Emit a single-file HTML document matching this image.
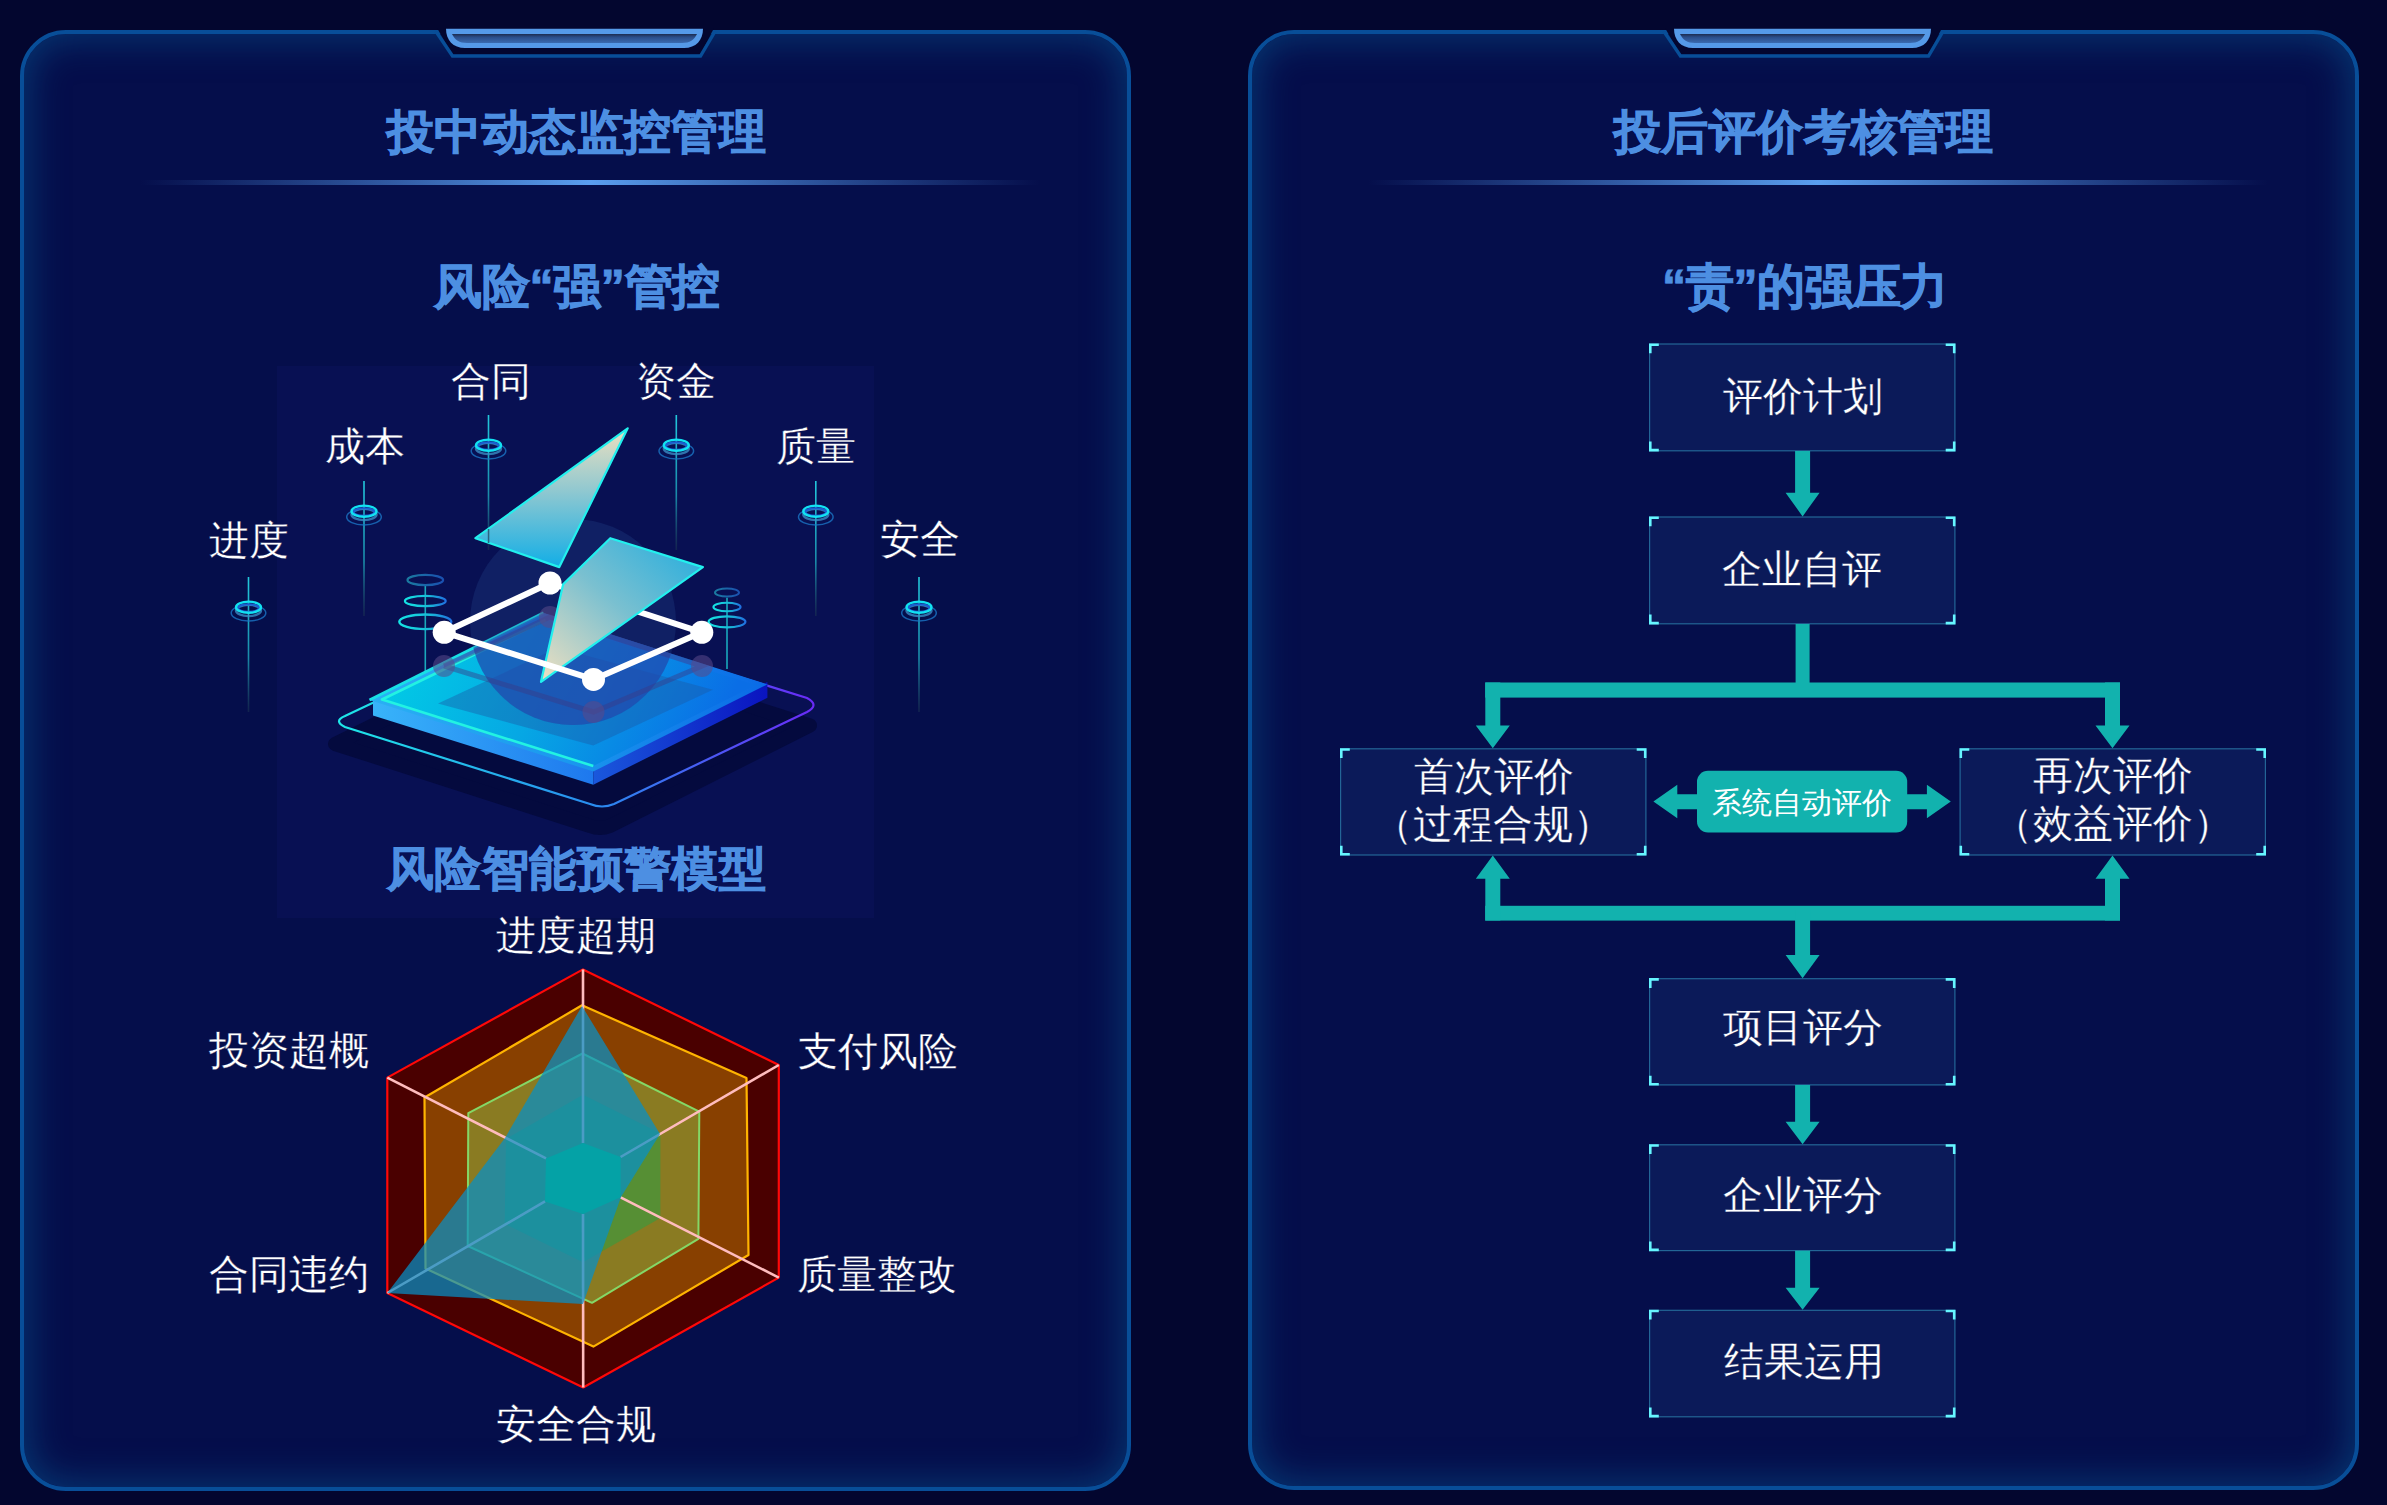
<!DOCTYPE html>
<html><head><meta charset="utf-8">
<style>
html,body{margin:0;padding:0;}
body{width:2387px;height:1505px;overflow:hidden;background:#03062f;position:relative;font-family:"Liberation Sans",sans-serif;}
.panel{position:absolute;top:30px;width:1111px;height:1461px;box-sizing:border-box;border:4px solid #084e98;border-radius:46px;background:#050e4b;box-shadow:inset 0 0 36px 5px rgba(6,64,122,0.8);}
#p1{left:20px;}
#p2{left:1248px;top:29.5px;height:1460px;}
.t{position:absolute;white-space:nowrap;color:#fff;line-height:1;}
.h1{font-size:47px;letter-spacing:0.4px;font-weight:700;color:#4d8fe2;-webkit-text-stroke:0.9px #4d8fe2;}
.h2{font-size:48px;letter-spacing:-0.3px;font-weight:700;color:#4d8fe2;-webkit-text-stroke:0.9px #4d8fe2;}
.lb{font-size:40px;font-weight:400;color:#fff;-webkit-text-stroke:0.3px #050e4b;}
.bx{-webkit-text-stroke:0.3px #0b1a59;}
svg{position:absolute;left:0;top:0;}
</style></head><body>
<div class="panel" id="p1"></div>
<div class="panel" id="p2"></div>

<svg width="2387" height="1505" viewBox="0 0 2387 1505">
<defs>
  <linearGradient id="hl" x1="0" x2="1" y1="0" y2="0">
    <stop offset="0" stop-color="#4d8fe2" stop-opacity="0"/>
    <stop offset="0.5" stop-color="#5a9ef0" stop-opacity="1"/>
    <stop offset="1" stop-color="#4d8fe2" stop-opacity="0"/>
  </linearGradient>
  <linearGradient id="tabin" x1="0" x2="0" y1="0" y2="1">
    <stop offset="0" stop-color="#1c2c50"/>
    <stop offset="0.35" stop-color="#2a4c88"/>
    <stop offset="1" stop-color="#3a6ab0"/>
  </linearGradient>
  <g id="tab">
    <polygon points="437,28 714,28 700.5,54.5 452.5,54.5" fill="#03062f"/>
    <polyline points="436,31.5 452.5,56 700.5,56 715,31.5" fill="none" stroke="#084e98" stroke-width="3.4"/>
    <path d="M446,28.7 L703,28.7 C703,40 696,48 684,48 L465,48 C453,48 446,40 446,28.7 Z" fill="#5599e8"/>
    <path d="M452,34 L697,34 C694,40 690,43 682,43 L467,43 C459,43 455,40 452,34 Z" fill="url(#tabin)"/>
  </g>
</defs>
<use href="#tab"/>
<use href="#tab" x="1228"/>
<rect x="140" y="180" width="900" height="5" fill="url(#hl)"/>
<rect x="1368" y="180" width="900" height="5" fill="url(#hl)"/>
</svg>

<svg width="2387" height="1505" viewBox="0 0 2387 1505" id="ill">
<defs>
  <linearGradient id="pinl" x1="0" x2="0" y1="0" y2="1">
    <stop offset="0" stop-color="#22c8dc"/>
    <stop offset="0.6" stop-color="#1a8aa8"/>
    <stop offset="1" stop-color="#1a3050" stop-opacity="0.6"/>
  </linearGradient>
  <g id="pin">
    <rect x="-0.8" y="0" width="1.6" height="135" fill="url(#pinl)"/>
    <ellipse cx="0" cy="36" rx="17.3" ry="8" fill="none" stroke="#1a74c4" stroke-width="1.5" opacity="0.8"/>
    <ellipse cx="0" cy="33.5" rx="12.5" ry="5.6" fill="none" stroke="#3a8cc4" stroke-width="2.4" opacity="0.8"/>
    <ellipse cx="0" cy="31" rx="10.5" ry="3.8" fill="none" stroke="#1a5ed0" stroke-width="2"/>
    <ellipse cx="0" cy="30.2" rx="12.5" ry="5.6" fill="none" stroke="#12e2f2" stroke-width="2.4"/>
  </g>
  <linearGradient id="outl" x1="0" x2="1" y1="0" y2="0">
    <stop offset="0" stop-color="#1ee8e8"/>
    <stop offset="0.55" stop-color="#2a8af0"/>
    <stop offset="1" stop-color="#6a2af8"/>
  </linearGradient>
  <linearGradient id="topf" x1="0" x2="1" y1="0" y2="0.2">
    <stop offset="0" stop-color="#00d2e6"/>
    <stop offset="0.5" stop-color="#06a8e4"/>
    <stop offset="1" stop-color="#0a6ee6"/>
  </linearGradient>
  <linearGradient id="outf" x1="0" x2="1" y1="0" y2="0">
    <stop offset="0" stop-color="#2ab0f4"/>
    <stop offset="0.5" stop-color="#1a98ee"/>
    <stop offset="1" stop-color="#0a6ae6"/>
  </linearGradient>
  <linearGradient id="inf" x1="0" x2="1" y1="0" y2="0">
    <stop offset="0" stop-color="#1aa0d4"/>
    <stop offset="1" stop-color="#1a70d4"/>
  </linearGradient>
  <linearGradient id="lface" x1="0" x2="1" y1="0" y2="0">
    <stop offset="0" stop-color="#38b4fa"/>
    <stop offset="1" stop-color="#1e78ee"/>
  </linearGradient>
  <linearGradient id="rface" x1="0" x2="1" y1="0" y2="0">
    <stop offset="0" stop-color="#1a58dc"/>
    <stop offset="1" stop-color="#0a14c0"/>
  </linearGradient>
  <linearGradient id="bolt1" x1="0" x2="0" y1="0" y2="1">
    <stop offset="0" stop-color="#ece0c0"/>
    <stop offset="0.45" stop-color="#90c8d0"/>
    <stop offset="1" stop-color="#12aee6"/>
  </linearGradient>
  <linearGradient id="bolt2" x1="1" x2="0" y1="0" y2="1">
    <stop offset="0" stop-color="#20acdf"/>
    <stop offset="0.5" stop-color="#7ac0d0"/>
    <stop offset="1" stop-color="#f0e0c0"/>
  </linearGradient>
</defs>
<rect x="277" y="366" width="597" height="552" fill="#0c1460" opacity="0.4"/>
<use href="#pin" x="248.5" y="577"/>
<use href="#pin" x="919" y="577"/>
<use href="#pin" x="364" y="481"/>
<use href="#pin" x="815.8" y="481"/>
<use href="#pin" x="488.5" y="415"/>
<use href="#pin" x="676.3" y="415"/>
<!-- shadow -->
<path d="M335,744 L590,826 Q600,830 610,826 L810,725.5 L545,640 Z" fill="#040a3e" stroke="#040a3e" stroke-width="14" stroke-linejoin="round"/>
<!-- outline -->
<path d="M345,716 Q333,721 345,727 L590,804 Q602,809 614,804 L807,712 Q820,705 807,698 L551,618.5 Z" fill="none" stroke="url(#outl)" stroke-width="2.2"/>
<!-- small stacks -->
<defs>
  <linearGradient id="stk" x1="0" x2="1" y1="0" y2="0">
    <stop offset="0" stop-color="#14e4e4"/>
    <stop offset="0.6" stop-color="#18b8d8"/>
    <stop offset="1" stop-color="#2070e0"/>
  </linearGradient>
  <linearGradient id="stk2" x1="0" x2="1" y1="0" y2="0">
    <stop offset="0" stop-color="#1a7aa0"/>
    <stop offset="1" stop-color="#1a50b0"/>
  </linearGradient>
</defs>
<g fill="none">
  <rect x="424.5" y="586" width="1.6" height="87" fill="#1aa8bc"/>
  <ellipse cx="425.3" cy="580" rx="17.8" ry="5.2" stroke="url(#stk2)" stroke-width="2.2"/>
  <ellipse cx="425.3" cy="601" rx="20.4" ry="5.2" stroke="url(#stk)" stroke-width="2.2"/>
  <ellipse cx="425.3" cy="621.8" rx="26" ry="7.3" stroke="url(#stk)" stroke-width="2.4"/>
  <rect x="726.2" y="597.7" width="1.6" height="71.3" fill="#1aa8bc"/>
  <ellipse cx="727" cy="592.5" rx="12" ry="4" stroke="url(#stk2)" stroke-width="2"/>
  <ellipse cx="727" cy="607" rx="13.6" ry="4.2" stroke="url(#stk)" stroke-width="2"/>
  <ellipse cx="727" cy="621.8" rx="18.4" ry="5.5" stroke="url(#stk)" stroke-width="2.2"/>
</g>
<!-- slab -->
<polygon points="373,698 593.3,769 593.3,784.7 373,715.5" fill="url(#lface)"/>
<polygon points="593.3,769 767.4,682 767.4,697.7 593.3,784.7" fill="url(#rface)"/>
<polygon points="369.5,700 543.6,612.9 767.4,684.4 593.3,771.5" fill="url(#outf)"/>
<polygon points="382,699.5 545.5,620 756,685 593.3,766" fill="url(#topf)"/>
<polyline points="593.3,766 382,699.5 545.5,620" fill="none" stroke="#22f2e2" stroke-width="2.6" stroke-linejoin="round"/>
<polyline points="369.5,700 543.6,612.9" fill="none" stroke="#18e0e6" stroke-width="3"/>
<polygon points="438,703.5 557.6,647.7 712.9,689.7 593.3,745.5" fill="#1a5aa8" opacity="0.42"/>
<!-- circle -->
<clipPath id="slabclip"><polygon points="369.5,700 543.6,612.9 767.4,684.4 593.3,771.5"/></clipPath><circle cx="573" cy="622" r="103" fill="rgb(40,80,150)" fill-opacity="0.25"/><circle cx="573" cy="622" r="103" fill="rgb(32,70,176)" fill-opacity="0.62" clip-path="url(#slabclip)"/>
<!-- shadow nodes -->
<g stroke="#3a3a88" stroke-width="5" opacity="0.45" fill="none">
  <polyline points="444,666 593.5,712 702,666 550,617 444,666"/>
</g>
<g fill="#5a4a8a" opacity="0.55">
  <circle cx="444" cy="666" r="11"/><circle cx="593.5" cy="712" r="11"/><circle cx="702" cy="666" r="11"/><circle cx="550" cy="617" r="11"/>
</g>
<!-- frame back segment -->
<line x1="550" y1="583" x2="701.8" y2="632.3" stroke="#fff" stroke-width="6"/>
<!-- bolts -->
<polygon points="627.7,428.3 475.4,538.2 559.3,567.1" fill="url(#bolt1)" stroke="#22f0ee" stroke-width="2.2" stroke-linejoin="round"/>
<polygon points="610.3,538.2 702.9,567.1 541,681.8 563.1,584.4" fill="url(#bolt2)" stroke="#22f0ee" stroke-width="2.2" stroke-linejoin="round"/>
<rect x="487.8" y="529" width="1.5" height="14" fill="#20506a" opacity="0.8"/>
<!-- frame front -->
<polyline points="550,583 444.2,632.3 593.5,679.4 701.8,632.3" fill="none" stroke="#fff" stroke-width="6" stroke-linejoin="round"/>
<g fill="#fff"><circle cx="444.2" cy="632.3" r="11.5"/><circle cx="550" cy="583" r="11.5"/><circle cx="701.8" cy="632.3" r="11.5"/><circle cx="593.5" cy="679.4" r="11.5"/></g>
</svg>

<svg width="2387" height="1505" viewBox="0 0 2387 1505" id="radar">
<polygon points="583,969.4 778.8,1065 778.8,1277.6 583.2,1387.5 387.3,1293 387.3,1077.6" fill="#4a0000" stroke="#ff0808" stroke-width="2.2" stroke-linejoin="round"/>
<polygon points="582,1005.3 746.5,1078 748.5,1255 593.4,1346.6 425.5,1268.5 424.5,1097.5" fill="#884000" stroke="#ffb400" stroke-width="2.2" stroke-linejoin="round"/>
<polygon points="582.5,1053.5 699.3,1111.7 698.4,1238.8 592,1302.8 467.7,1246 468.3,1113.1" fill="#8a7b22" stroke="#84d866" stroke-width="2" stroke-linejoin="round"/>
<polygon points="583,1094.7 660.4,1133.3 660.4,1218 583,1262.3 504.7,1224 506,1139" fill="#568f34"/>
<polygon points="583,1143 620.6,1157 620.6,1197.3 583,1214 545,1201.4 546,1158.4" fill="#00d050"/>
<g stroke="#ffbcbe" stroke-width="2.6"><line x1="583" y1="1143" x2="583" y2="969.4"/><line x1="620.6" y1="1157" x2="778.8" y2="1065"/><line x1="620.6" y1="1197.3" x2="778.8" y2="1277.6"/><line x1="583" y1="1214" x2="583.2" y2="1387.5"/><line x1="545" y1="1201.4" x2="387.3" y2="1293"/><line x1="546" y1="1158.4" x2="387.3" y2="1077.6"/></g>
<polygon points="582,1006 660,1134 621,1197 583,1304 387.3,1293 505,1138" fill="rgb(6,144,200)" fill-opacity="0.72"/>
</svg>

<svg width="2387" height="1505" viewBox="0 0 2387 1505" id="flow">
<rect x="1649.6" y="344.0" width="305.3" height="106.8" fill="#0b1a59" stroke="#2a7aa8" stroke-opacity="0.8" stroke-width="1.2"/><path d="M1650.3,353.2 V344.7 H1658.8 M1945.7,344.7 H1954.2 V353.2 M1650.3,441.59999999999997 V450.09999999999997 H1658.8 M1945.7,450.09999999999997 H1954.2 V441.59999999999997" fill="none" stroke="#66f6ff" stroke-width="2.6"/><rect x="1649.6" y="517.0" width="305.3" height="106.8" fill="#0b1a59" stroke="#2a7aa8" stroke-opacity="0.8" stroke-width="1.2"/><path d="M1650.3,526.1999999999999 V517.6999999999999 H1658.8 M1945.7,517.6999999999999 H1954.2 V526.1999999999999 M1650.3,614.6 V623.1 H1658.8 M1945.7,623.1 H1954.2 V614.6" fill="none" stroke="#66f6ff" stroke-width="2.6"/><rect x="1340.6" y="748.8000000000001" width="305.3" height="106.2" fill="#0b1a59" stroke="#2a7aa8" stroke-opacity="0.8" stroke-width="1.2"/><path d="M1341.3,758.0 V749.5 H1349.8 M1636.7,749.5 H1645.2 V758.0 M1341.3,845.8000000000001 V854.3000000000001 H1349.8 M1636.7,854.3000000000001 H1645.2 V845.8000000000001" fill="none" stroke="#66f6ff" stroke-width="2.6"/><rect x="1960.1" y="748.8000000000001" width="305.3" height="106.2" fill="#0b1a59" stroke="#2a7aa8" stroke-opacity="0.8" stroke-width="1.2"/><path d="M1960.8,758.0 V749.5 H1969.3 M2256.2,749.5 H2264.7 V758.0 M1960.8,845.8000000000001 V854.3000000000001 H1969.3 M2256.2,854.3000000000001 H2264.7 V845.8000000000001" fill="none" stroke="#66f6ff" stroke-width="2.6"/><rect x="1649.6" y="978.7" width="305.3" height="106.2" fill="#0b1a59" stroke="#2a7aa8" stroke-opacity="0.8" stroke-width="1.2"/><path d="M1650.3,987.9 V979.4 H1658.8 M1945.7,979.4 H1954.2 V987.9 M1650.3,1075.7 V1084.2 H1658.8 M1945.7,1084.2 H1954.2 V1075.7" fill="none" stroke="#66f6ff" stroke-width="2.6"/><rect x="1649.6" y="1144.8" width="305.3" height="105.8" fill="#0b1a59" stroke="#2a7aa8" stroke-opacity="0.8" stroke-width="1.2"/><path d="M1650.3,1154.0 V1145.5 H1658.8 M1945.7,1145.5 H1954.2 V1154.0 M1650.3,1241.4 V1249.9 H1658.8 M1945.7,1249.9 H1954.2 V1241.4" fill="none" stroke="#66f6ff" stroke-width="2.6"/><rect x="1649.6" y="1310.3" width="305.3" height="106.5" fill="#0b1a59" stroke="#2a7aa8" stroke-opacity="0.8" stroke-width="1.2"/><path d="M1650.3,1319.5 V1311.0 H1658.8 M1945.7,1311.0 H1954.2 V1319.5 M1650.3,1407.6000000000001 V1416.1000000000001 H1658.8 M1945.7,1416.1000000000001 H1954.2 V1407.6000000000001" fill="none" stroke="#66f6ff" stroke-width="2.6"/>
<path d="M1795.1,451 H1810.1 V492.7 H1819.6 L1802.6,516.4 L1785.6,492.7 H1795.1 Z" fill="#12b2ae"/><rect x="1795.6" y="624" width="14" height="70" fill="#12b2ae"/><rect x="1485.2" y="682.5" width="634.8" height="15.1" fill="#12b2ae"/><path d="M1485.3,682.5 H1500.3 V725.5 H1509.8 L1492.8,748.2 L1475.8,725.5 H1485.3 Z" fill="#12b2ae"/><path d="M2105.0,682.5 H2120.0 V725.5 H2129.5 L2112.5,748.2 L2095.5,725.5 H2105.0 Z" fill="#12b2ae"/><rect x="1485.2" y="905.8" width="634.8" height="14.8" fill="#12b2ae"/><path d="M1485.3,920.6 H1500.3 V878.7 H1509.8 L1492.8,855.6 L1475.8,878.7 H1485.3 Z" fill="#12b2ae"/><path d="M2105.0,920.6 H2120.0 V878.7 H2129.5 L2112.5,855.6 L2095.5,878.7 H2105.0 Z" fill="#12b2ae"/><path d="M1795.1,910 H1810.1 V955 H1819.6 L1802.6,978.2 L1785.6,955 H1795.1 Z" fill="#12b2ae"/><path d="M1795.1,1085 H1810.1 V1121.7 H1819.6 L1802.6,1144.2 L1785.6,1121.7 H1795.1 Z" fill="#12b2ae"/><path d="M1795.1,1250.8 H1810.1 V1287.8 H1819.6 L1802.6,1309.7 L1785.6,1287.8 H1795.1 Z" fill="#12b2ae"/><path d="M1697,794.2 H1677.3 V784.8 L1653.4,801.6 L1677.3,818.3 V809.3 H1697 Z" fill="#12b2ae"/><path d="M1907,794.2 H1926.9 V784.8 L1950.8,801.6 L1926.9,818.3 V809.3 H1907 Z" fill="#12b2ae"/><rect x="1697" y="770.7" width="210.2" height="61.7" rx="11" fill="#12b2ae"/>
</svg>

<div class="t h1" style="left:387px;top:108px;">投中动态监控管理</div>
<div class="t h1" style="left:1614px;top:108px;">投后评价考核管理</div>
<div class="t h2" style="left:434px;top:263px;">风险“强”管控</div>
<div class="t h2" style="left:1662px;top:262.5px;">“责”的强压力</div>


<div class="t lb" style="left:451px;top:360.5px;">合同</div>
<div class="t lb" style="left:635.5px;top:361px;">资金</div>
<div class="t lb" style="left:324.5px;top:426px;">成本</div>
<div class="t lb" style="left:775.5px;top:426px;">质量</div>
<div class="t lb" style="left:209px;top:519.5px;">进度</div>
<div class="t lb" style="left:879.5px;top:519px;">安全</div>
<div class="t h1" style="left:387px;top:845px;">风险智能预警模型</div>

<div class="t lb" style="left:496px;top:915px;">进度超期</div>
<div class="t lb" style="left:208.5px;top:1030px;">投资超概</div>
<div class="t lb" style="left:798px;top:1030.5px;">支付风险</div>
<div class="t lb" style="left:209px;top:1253.5px;">合同违约</div>
<div class="t lb" style="left:797px;top:1253.5px;">质量整改</div>
<div class="t lb" style="left:495.5px;top:1403.5px;">安全合规</div>

<div class="t lb bx" style="left:1722.5px;top:376px;">评价计划</div>
<div class="t lb bx" style="left:1722px;top:549px;">企业自评</div>
<div class="t lb bx" style="left:1413.5px;top:755.5px;">首次评价</div>
<div class="t lb bx" style="left:1373px;top:804px;">（过程合规）</div>
<div class="t lb bx" style="left:2033px;top:755px;">再次评价</div>
<div class="t lb bx" style="left:1993px;top:803px;">（效益评价）</div>
<div class="t lb bx" style="left:1723px;top:1006.5px;">项目评分</div>
<div class="t lb bx" style="left:1722.5px;top:1175px;">企业评分</div>
<div class="t lb bx" style="left:1724px;top:1341px;">结果运用</div>
<div class="t" style="font-size:30px;left:1712px;top:787.5px;">系统自动评价</div>
</body></html>
